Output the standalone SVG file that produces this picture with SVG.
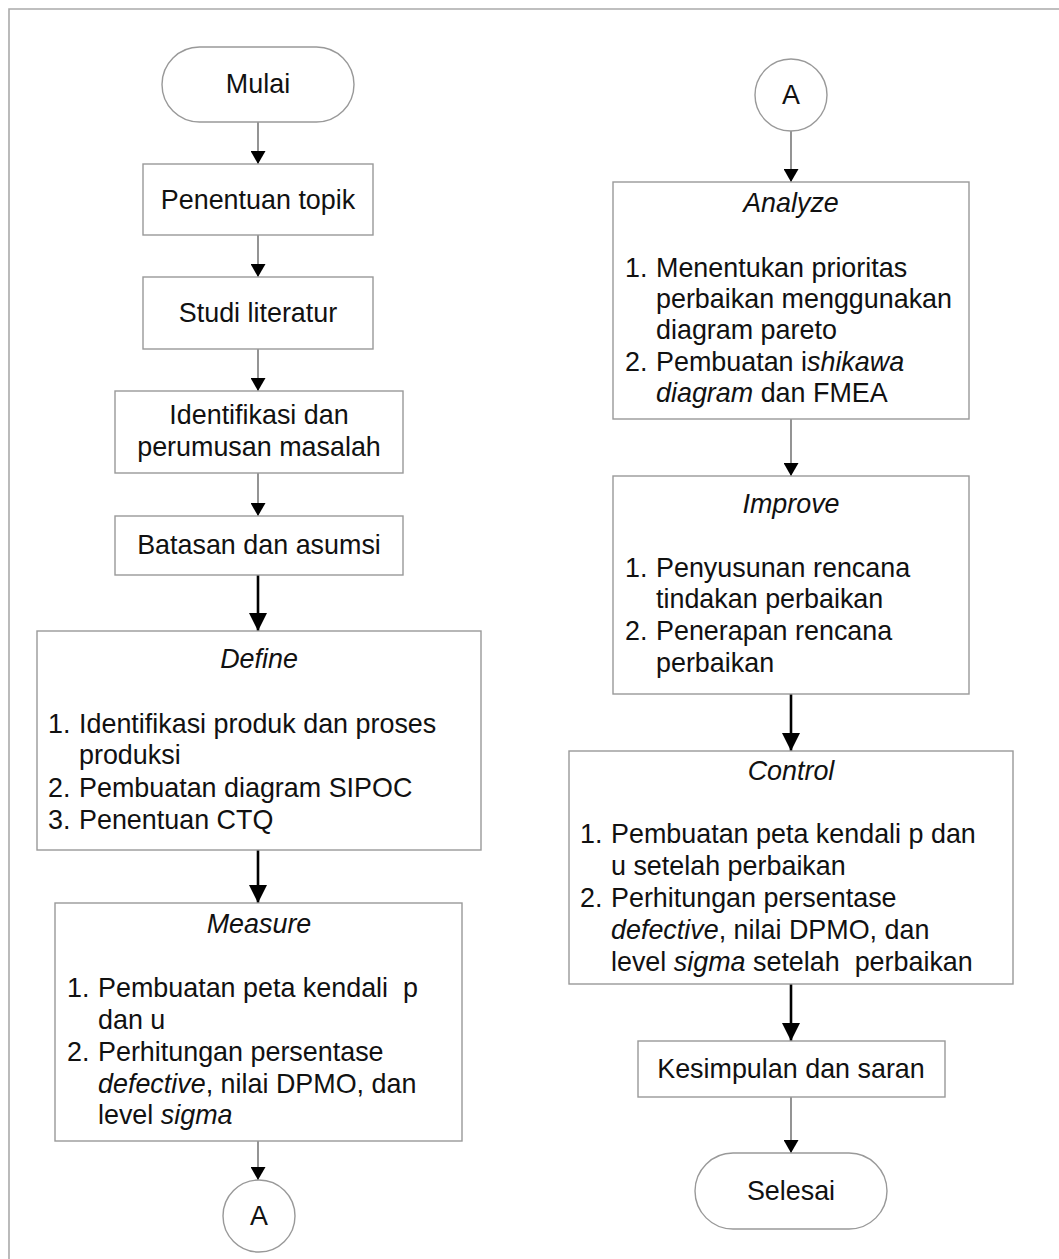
<svg xmlns="http://www.w3.org/2000/svg" width="1059" height="1259" viewBox="0 0 1059 1259">
<style>
text{font-family:"Liberation Sans",Arial,sans-serif;font-size:26.9px;fill:#111}
.c{text-anchor:middle}
.i{font-style:italic}
.box{fill:#fff;stroke:#999;stroke-width:1.4}
.thin{stroke:#666;stroke-width:1.4;fill:none}
.thick{stroke:#000;stroke-width:2.6;fill:none}
</style>
<defs>
<marker id="ah" markerUnits="userSpaceOnUse" viewBox="0 0 13 15" refX="13" refY="7.5" markerWidth="13" markerHeight="15" orient="auto">
<path d="M0,0 L13,7.5 L0,15 Z" fill="#000"/>
</marker>
<marker id="ahb" markerUnits="userSpaceOnUse" viewBox="0 0 18 18" refX="18" refY="9" markerWidth="18" markerHeight="18" orient="auto">
<path d="M0,0 L18,9 L0,18 Z" fill="#000"/>
</marker>
</defs>
<rect x="0" y="0" width="1059" height="1259" fill="#fff"/>
<path d="M9,1259 L9,9 L1059,9" fill="none" stroke="#aaa" stroke-width="1.6"/>
<g id="connectors">
<path class="thin" d="M258,122 V164" marker-end="url(#ah)"/>
<path class="thin" d="M258,235 V277" marker-end="url(#ah)"/>
<path class="thin" d="M258,349 V391" marker-end="url(#ah)"/>
<path class="thin" d="M258,473 V516" marker-end="url(#ah)"/>
<path class="thick" d="M258,575 V631" marker-end="url(#ahb)"/>
<path class="thick" d="M258,850 V903" marker-end="url(#ahb)"/>
<path class="thin" d="M258,1141 V1180" marker-end="url(#ah)"/>
<path class="thin" d="M791,131 V182" marker-end="url(#ah)"/>
<path class="thin" d="M791,419 V476" marker-end="url(#ah)"/>
<path class="thick" d="M791,694 V751" marker-end="url(#ahb)"/>
<path class="thick" d="M791,984 V1041" marker-end="url(#ahb)"/>
<path class="thin" d="M791,1097 V1153" marker-end="url(#ah)"/>
</g>
<g id="mulai">
<rect class="box" x="162" y="47" width="192" height="75" rx="37.5"/>
<text class="c" x="258" y="93">Mulai</text>
</g>
<g id="penentuan-topik">
<rect class="box" x="143" y="164" width="230" height="71"/>
<text class="c" x="258" y="209">Penentuan topik</text>
</g>
<g id="studi-literatur">
<rect class="box" x="143" y="277" width="230" height="72"/>
<text class="c" x="258" y="322">Studi literatur</text>
</g>
<g id="identifikasi">
<rect class="box" x="115" y="391" width="288" height="82"/>
<text class="c" x="259" y="424">Identifikasi dan</text>
<text class="c" x="259" y="456">perumusan masalah</text>
</g>
<g id="batasan">
<rect class="box" x="115" y="516" width="288" height="59"/>
<text class="c" x="259" y="554">Batasan dan asumsi</text>
</g>
<g id="define">
<rect class="box" x="37" y="631" width="444" height="219"/>
<text class="c i" x="259" y="668">Define</text>
<text x="48" y="733">1.</text><text x="79" y="733">Identifikasi produk dan proses</text>
<text x="79" y="764">produksi</text>
<text x="48" y="797">2.</text><text x="79" y="797">Pembuatan diagram SIPOC</text>
<text x="48" y="829">3.</text><text x="79" y="829">Penentuan CTQ</text>
</g>
<g id="measure">
<rect class="box" x="55" y="903" width="407" height="238"/>
<text class="c i" x="259" y="933">Measure</text>
<text x="67" y="997">1.</text><text x="98" y="997" xml:space="preserve">Pembuatan peta kendali  p</text>
<text x="98" y="1029">dan u</text>
<text x="67" y="1061">2.</text><text x="98" y="1061">Perhitungan persentase</text>
<text x="98" y="1093"><tspan class="i">defective</tspan>, nilai DPMO, dan</text>
<text x="98" y="1124">level <tspan class="i">sigma</tspan></text>
</g>
<g id="connector-a-left">
<circle class="box" cx="259" cy="1216" r="36"/>
<text class="c" x="259" y="1225">A</text>
</g>
<g id="connector-a-right">
<circle class="box" cx="791" cy="95" r="36"/>
<text class="c" x="791" y="104">A</text>
</g>
<g id="analyze">
<rect class="box" x="613" y="182" width="356" height="237"/>
<text class="c i" x="791" y="212">Analyze</text>
<text x="625" y="277">1.</text><text x="656" y="277">Menentukan prioritas</text>
<text x="656" y="308">perbaikan menggunakan</text>
<text x="656" y="339">diagram pareto</text>
<text x="625" y="371">2.</text><text x="656" y="371">Pembuatan i<tspan class="i">shikawa</tspan></text>
<text x="656" y="402"><tspan class="i">diagram</tspan> dan FMEA</text>
</g>
<g id="improve">
<rect class="box" x="613" y="476" width="356" height="218"/>
<text class="c i" x="791" y="513">Improve</text>
<text x="625" y="577">1.</text><text x="656" y="577">Penyusunan rencana</text>
<text x="656" y="608">tindakan perbaikan</text>
<text x="625" y="640">2.</text><text x="656" y="640">Penerapan rencana</text>
<text x="656" y="672">perbaikan</text>
</g>
<g id="control">
<rect class="box" x="569" y="751" width="444" height="233"/>
<text class="c i" x="791" y="780">Control</text>
<text x="580" y="843">1.</text><text x="611" y="843">Pembuatan peta kendali p dan</text>
<text x="611" y="875">u setelah perbaikan</text>
<text x="580" y="907">2.</text><text x="611" y="907">Perhitungan persentase</text>
<text x="611" y="939"><tspan class="i">defective</tspan>, nilai DPMO, dan</text>
<text x="611" y="971" xml:space="preserve">level <tspan class="i">sigma</tspan> setelah  perbaikan</text>
</g>
<g id="kesimpulan">
<rect class="box" x="638" y="1041" width="307" height="56"/>
<text class="c" x="791" y="1078">Kesimpulan dan saran</text>
</g>
<g id="selesai">
<rect class="box" x="695" y="1153" width="192" height="76" rx="38"/>
<text class="c" x="791" y="1200">Selesai</text>
</g>
</svg>
